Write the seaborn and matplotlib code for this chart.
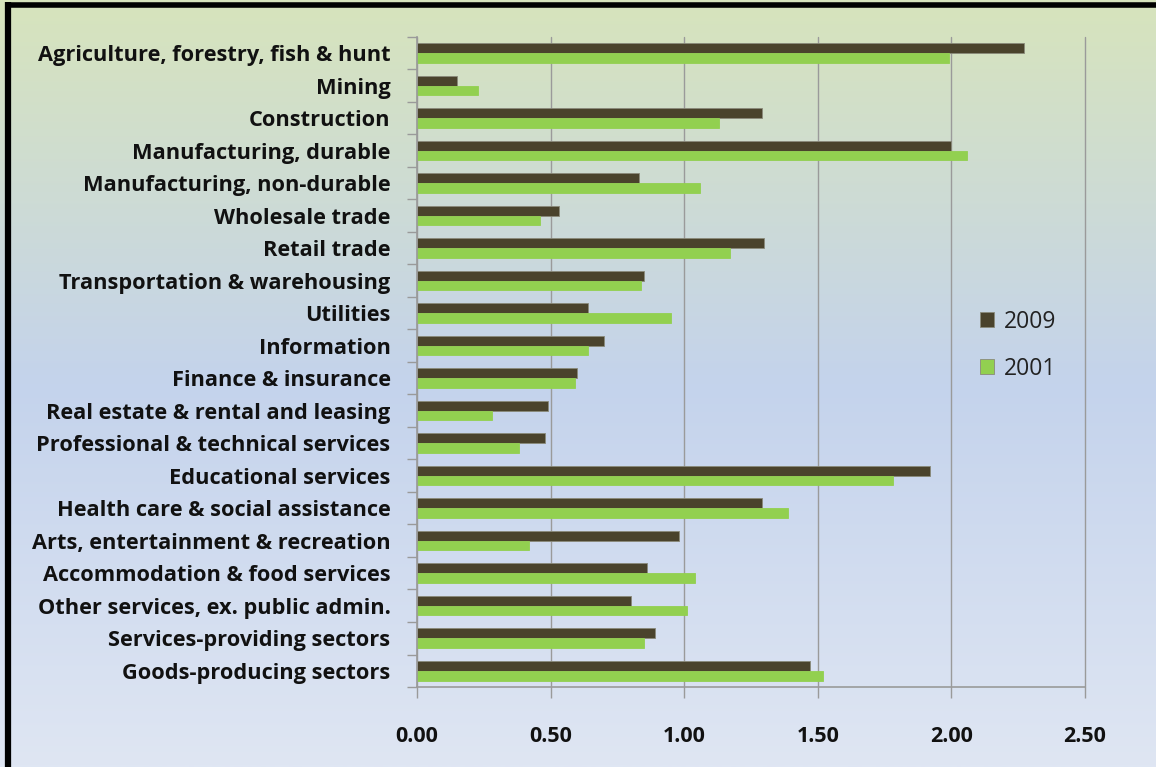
"""Employment concentration by sector, 2009 vs 2001 (horizontal grouped bars)."""

import matplotlib

matplotlib.use("Agg")

import matplotlib.pyplot as plt
import numpy as np
import pandas as pd
import seaborn as sns
from matplotlib.colors import LinearSegmentedColormap
from matplotlib.lines import Line2D
from matplotlib.ticker import FixedLocator, MultipleLocator

sectors = [
    "Agriculture, forestry, fish & hunt",
    "Mining",
    "Construction",
    "Manufacturing, durable",
    "Manufacturing, non-durable",
    "Wholesale trade",
    "Retail trade",
    "Transportation & warehousing",
    "Utilities",
    "Information",
    "Finance & insurance",
    "Real estate & rental and leasing",
    "Professional & technical services",
    "Educational services",
    "Health care & social assistance",
    "Arts, entertainment & recreation",
    "Accommodation & food services",
    "Other services, ex. public admin.",
    "Services-providing sectors",
    "Goods-producing sectors",
]
values_2009 = [2.27, 0.15, 1.29, 2.00, 0.83, 0.53, 1.30, 0.85, 0.64, 0.70,
               0.60, 0.49, 0.48, 1.92, 1.29, 0.98, 0.86, 0.80, 0.89, 1.47]
values_2001 = [1.99, 0.23, 1.13, 2.06, 1.06, 0.46, 1.17, 0.84, 0.95, 0.64,
               0.59, 0.28, 0.38, 1.78, 1.39, 0.42, 1.04, 1.01, 0.85, 1.52]
years = ["2009", "2001"]
x_ticks = [0.0, 0.5, 1.0, 1.5, 2.0, 2.5]

colors = {"2009": "#4a432c", "2001": "#92d050"}
grid_gray = "#9a9a9a"

df = pd.DataFrame({
    "sector": sectors * 2,
    "year": ["2009"] * len(sectors) + ["2001"] * len(sectors),
    "value": values_2009 + values_2001,
})

sns.set_theme(style="white")
plt.rcParams["font.family"] = ["Open Sans", "DejaVu Sans"]

fig = plt.figure(figsize=(11.56, 7.67), dpi=100)

# gradient background: pale green at the top, light blue in the middle, paler at the bottom
bg = fig.add_axes([0, 0, 1, 1], zorder=-10)
cmap = LinearSegmentedColormap.from_list(
    "bg", [(0.0, "#d7e4bc"), (0.5, "#c4d3ec"), (1.0, "#dfe6f3")]
)
bg.imshow(np.linspace(0, 1, 256).reshape(-1, 1), aspect="auto", cmap=cmap,
          extent=[0, 1, 0, 1], origin="upper")
bg.set_axis_off()

# black frame on left and top edges
fig.add_artist(Line2D([0.0065, 0.0065], [0, 0.997], transform=fig.transFigure,
                      color="black", lw=4.5, solid_capstyle="butt"))
fig.add_artist(Line2D([0.004, 1.0], [0.9935, 0.9935], transform=fig.transFigure,
                      color="black", lw=4.0, solid_capstyle="butt"))

ax = fig.add_axes([0.3607, 0.1043, 0.5779, 0.8475])
ax.patch.set_alpha(0)

sns.barplot(
    data=df, y="sector", x="value", hue="year", hue_order=years,
    palette=colors, orient="h", width=0.6, gap=0, ax=ax,
    edgecolor="#8a8a7a", linewidth=0.6, saturation=1,
)
for bar_container, year in zip(ax.containers, years):
    if year == "2001":
        for patch in bar_container:
            patch.set_edgecolor(colors["2001"])

ax.set_xlim(0, 2.5)
ax.set_ylim(len(sectors) - 0.5, -0.5)
ax.xaxis.set_major_locator(FixedLocator(x_ticks))
ax.set_xticklabels([f"{t:.2f}" for t in x_ticks], fontsize=15.5, fontweight="bold")
ax.tick_params(axis="x", length=8, width=1, color=grid_gray, direction="out", pad=20, bottom=True)
ax.xaxis.grid(True, color=grid_gray, lw=1)
for line in ax.get_xgridlines():
    line.set_clip_on(False)
ax.set_axisbelow(True)

ax.set_yticklabels(sectors, fontsize=15.7, fontweight="bold", color="#111111")
ax.tick_params(axis="y", length=0, pad=19, left=False)
ax.yaxis.set_minor_locator(MultipleLocator(1, offset=0.5))
ax.tick_params(axis="y", which="minor", length=7, width=1, color=grid_gray, left=True)
ax.tick_params(axis="x", labelcolor="#111111")

ax.set_xlabel("")
ax.set_ylabel("")
for side in ["top", "right"]:
    ax.spines[side].set_visible(False)
for side in ["left", "bottom"]:
    ax.spines[side].set_color(grid_gray)
    ax.spines[side].set_linewidth(1.2)

leg = ax.legend(
    loc="upper left", bbox_to_anchor=(0.812, 0.612), frameon=False,
    fontsize=16.5, handlelength=0.6, handleheight=0.6, labelspacing=1.0, handletextpad=0.45,
)
for text in leg.get_texts():
    text.set_color("#222222")

fig.savefig("out.png", dpi=100)
